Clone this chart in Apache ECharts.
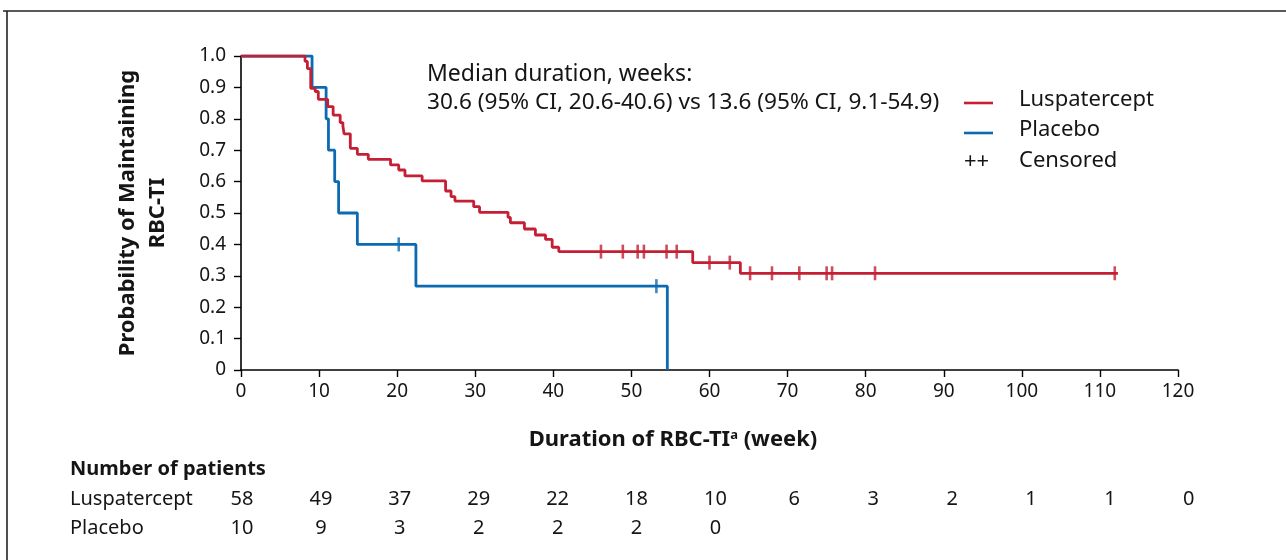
<!DOCTYPE html>
<html><head><meta charset="utf-8">
<script src="https://cdn.jsdelivr.net/npm/echarts@6/dist/echarts.min.js"></script>
<style>html,body{margin:0;padding:0;background:#fff}#c{width:1286px;height:560px}</style>
</head><body><div id="c"></div>
<script>
// Kaplan-Meier step data [week, probability]
var lusSteps = [[0,1.0],[8.2,0.983],[8.5,0.96],[8.93,0.897],[9.5,0.887],[9.9,0.862],[11.1,0.839],[11.8,0.812],[12.7,0.788],[13.05,0.777],[13.2,0.752],[14.0,0.706],[14.9,0.687],[16.3,0.671],[19.15,0.653],[20.2,0.637],[21.0,0.618],[23.2,0.602],[26.2,0.57],[26.9,0.552],[27.4,0.538],[29.8,0.52],[30.55,0.502],[34.2,0.486],[34.5,0.469],[36.3,0.449],[37.7,0.43],[39.0,0.416],[39.85,0.391],[40.7,0.377],[57.85,0.342],[63.95,0.308],[112.3,0.308]];
var plaSteps = [[0,1.0],[9.1,0.9],[10.9,0.8],[11.2,0.7],[12.0,0.6],[12.5,0.5],[14.9,0.4],[22.4,0.267],[54.6,0.0]];
var lusCensored = [[46.1,0.377],[48.9,0.377],[50.8,0.377],[51.6,0.377],[54.5,0.377],[55.8,0.377],[60.0,0.342],[62.6,0.342],[65.2,0.308],[68.0,0.308],[71.5,0.308],[75.0,0.308],[75.7,0.308],[81.2,0.308],[111.9,0.308]];
var plaCensored = [[20.2,0.4],[53.2,0.267]];
var lusRisk = [58,49,37,29,22,18,10,6,3,2,1,1,0];
var plaRisk = [10,9,3,2,2,2,0];
var xTicks = {min:0,max:120,interval:10};
var yTicks = {min:0,max:1,interval:0.1};

var RED = '#c41f35', BLUE = '#0b6ab2', TXT = '#151515';
var FONT = 'Noto Sans';
var chart = echarts.init(document.getElementById('c'));

var graphics = [
  {type:'line', shape:{x1:3,y1:11,x2:1286,y2:11}, style:{stroke:'#222',lineWidth:1.6}},
  {type:'line', shape:{x1:7,y1:11,x2:7,y2:560}, style:{stroke:'#222',lineWidth:1.6}},
  {type:'text', x:143, y:213, rotation:Math.PI/2, style:{text:'Probability of Maintaining\nRBC-TI', font:'bold 22px '+FONT, fill:TXT, align:'center', verticalAlign:'middle', lineHeight:30}},
  {type:'text', x:673, y:440, style:{text:'{b|Duration of RBC-TI}{s|a}{b| (week)}', align:'center', verticalAlign:'middle', rich:{b:{font:'bold 22px '+FONT, fill:TXT}, s:{font:'bold 13px '+FONT, fill:TXT, verticalAlign:'top', padding:[0,0,10,0]}}}},
  {type:'text', x:427, y:74, style:{text:'Median duration, weeks:', font:'23px '+FONT, fill:TXT, verticalAlign:'middle'}},
  {type:'text', x:427, y:103, style:{text:'30.6 (95% CI, 20.6-40.6) vs 13.6 (95% CI, 9.1-54.9)', font:'22.6px '+FONT, fill:TXT, verticalAlign:'middle'}},
  {type:'line', shape:{x1:964,y1:103,x2:993,y2:103}, style:{stroke:RED,lineWidth:2.6}},
  {type:'line', shape:{x1:964,y1:133,x2:993,y2:133}, style:{stroke:BLUE,lineWidth:2.6}},
  {type:'text', x:964, y:162, style:{text:'++', font:'22px '+FONT, fill:TXT, verticalAlign:'middle'}},
  {type:'text', x:1019, y:100, style:{text:'Luspatercept', font:'22px '+FONT, fill:TXT, verticalAlign:'middle'}},
  {type:'text', x:1019, y:130, style:{text:'Placebo', font:'22px '+FONT, fill:TXT, verticalAlign:'middle'}},
  {type:'text', x:1019, y:161, style:{text:'Censored', font:'22px '+FONT, fill:TXT, verticalAlign:'middle'}},
  {type:'text', x:70, y:469, style:{text:'Number of patients', font:'bold 20px '+FONT, fill:TXT, verticalAlign:'middle'}},
  {type:'text', x:70, y:499, style:{text:'Luspatercept', font:'20px '+FONT, fill:TXT, verticalAlign:'middle'}},
  {type:'text', x:70, y:528, style:{text:'Placebo', font:'20px '+FONT, fill:TXT, verticalAlign:'middle'}}
];
function colX(i){ return 242 + i*78.9; }
lusRisk.forEach(function(v,i){ graphics.push({type:'text', x:colX(i), y:499, style:{text:String(v), font:'20px '+FONT, fill:TXT, align:'center', verticalAlign:'middle'}}); });
plaRisk.forEach(function(v,i){ graphics.push({type:'text', x:colX(i), y:528, style:{text:String(v), font:'20px '+FONT, fill:TXT, align:'center', verticalAlign:'middle'}}); });

chart.setOption({
  animation:false,
  backgroundColor:'#fff',
  grid:{left:241, right:108, top:56, bottom:190},
  xAxis:{type:'value', min:xTicks.min, max:xTicks.max, interval:xTicks.interval,
    axisLine:{lineStyle:{color:'#000',width:1.6}}, axisTick:{length:7,lineStyle:{color:'#000',width:1.4}},
    axisLabel:{color:TXT, fontSize:19, fontFamily:FONT, margin:12}, splitLine:{show:false}},
  yAxis:{type:'value', min:yTicks.min, max:yTicks.max, interval:yTicks.interval,
    axisLine:{show:true, lineStyle:{color:'#000',width:1.6}}, axisTick:{show:true,length:7,lineStyle:{color:'#000',width:1.4}},
    axisLabel:{color:TXT, fontSize:19, fontFamily:FONT, margin:15, formatter:function(v){return v===0?'0':v.toFixed(1);}}, splitLine:{show:false}},
  series:[
    {type:'line', step:'end', data:lusSteps, showSymbol:false, lineStyle:{color:RED,width:2.8}, z:3},
    {type:'line', step:'end', data:plaSteps, showSymbol:false, lineStyle:{color:BLUE,width:2.8}, z:2},
    {type:'scatter', data:lusCensored, symbol:'rect', symbolSize:[2.6,14], itemStyle:{color:RED}, z:4},
    {type:'scatter', data:plaCensored, symbol:'rect', symbolSize:[2.6,14], itemStyle:{color:BLUE}, z:4}
  ],
  graphic:graphics
});
</script></body></html>
